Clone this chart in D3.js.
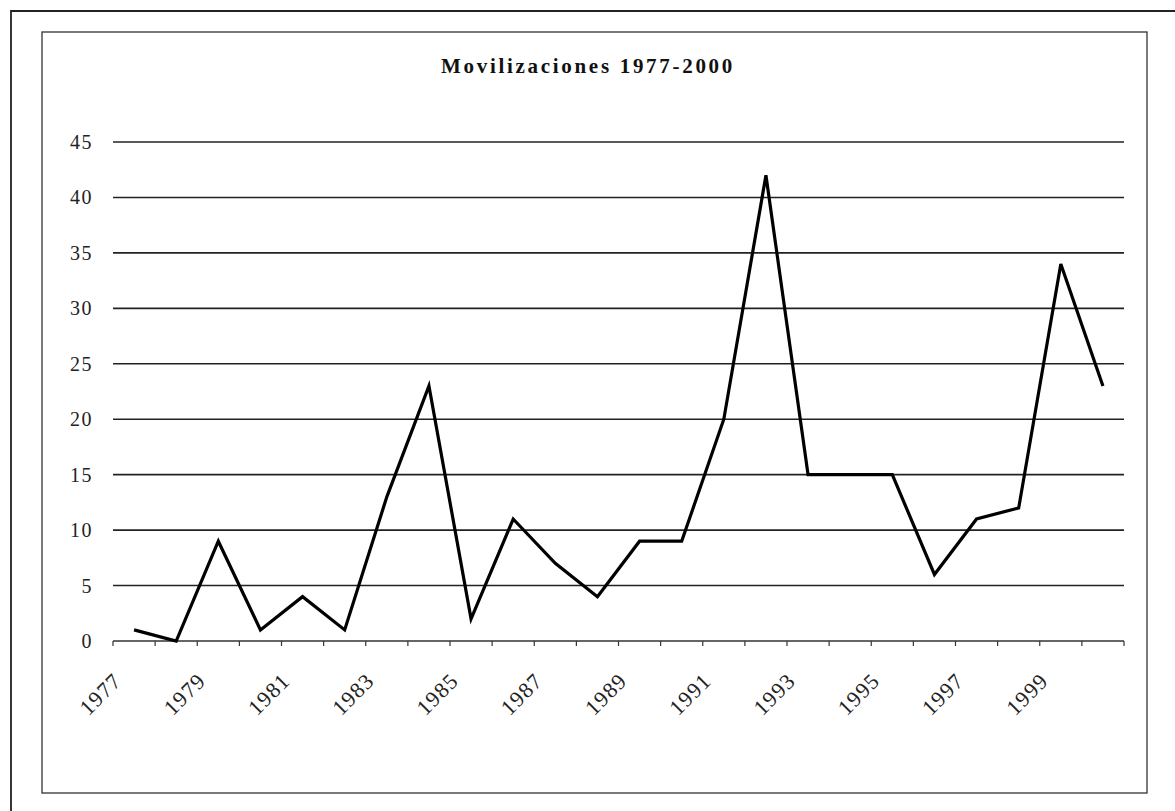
<!DOCTYPE html>
<html><head><meta charset="utf-8">
<script src="https://cdn.jsdelivr.net/npm/d3@7/dist/d3.min.js"></script>
<style>body{margin:0;background:#fff}svg{display:block}</style>
</head><body><svg id="c" width="1175" height="811"></svg>
<script>
const title = "Movilizaciones 1977-2000";
const years = ["1977","1978","1979","1980","1981","1982","1983","1984","1985","1986","1987","1988","1989","1990","1991","1992","1993","1994","1995","1996","1997","1998","1999","2000"];
const movilizaciones = [1,0,9,1,4,1,13,23,2,11,7,4,9,9,20,42,15,15,15,6,11,12,34,23];
const yTicks = [0,5,10,15,20,25,30,35,40,45];
const xLabels = ["1977","1979","1981","1983","1985","1987","1989","1991","1993","1995","1997","1999"];

const svg = d3.select("#c");
const L = 113, R = 1124, T = 142, B = 641;
const x = d3.scaleBand().domain(years).range([L, R]);
const y = d3.scaleLinear().domain([0, 45]).range([B, T]);

// outer page border and chart border
svg.append("path").attr("d", "M11,815 L11,11 L1180,11").attr("fill","none").attr("stroke","#222").attr("stroke-width",1.8);
svg.append("rect").attr("x",42).attr("y",32).attr("width",1105).attr("height",761)
  .attr("fill","none").attr("stroke","#333").attr("stroke-width",1.3);

// title
svg.append("text").attr("x", 588).attr("y", 73).attr("text-anchor","middle")
  .attr("font-family","Liberation Serif").attr("font-weight","bold").attr("font-size",21)
  .attr("letter-spacing", 2.7).attr("fill","#111").text(title);

// gridlines
svg.append("g").selectAll("line").data(yTicks.filter(d=>d>0)).join("line")
  .attr("x1", L).attr("x2", R).attr("y1", d=>y(d)).attr("y2", d=>y(d))
  .attr("stroke","#222").attr("stroke-width",1.6);

// y labels
svg.append("g").selectAll("text").data(yTicks).join("text")
  .attr("x", 93).attr("y", d=>y(d)+7).attr("text-anchor","end")
  .attr("font-family","Liberation Serif").attr("font-size",20).attr("letter-spacing",1.5)
  .attr("fill","#222").text(d=>d);

// x axis
const xAxis = d3.axisBottom(x).tickSize(0).tickFormat("");
const gx = svg.append("g").attr("transform",`translate(0,${B})`).call(xAxis);
gx.select(".domain").attr("stroke","#333").attr("stroke-width",1.6).attr("d", `M${L},0H${R}`);
gx.selectAll(".tick").remove();
const bounds = years.map(d=>x(d)).concat([R]);
gx.selectAll("line.tk").data(bounds).join("line").attr("class","tk")
  .attr("x1", d=>d).attr("x2", d=>d).attr("y1",0).attr("y2",5)
  .attr("stroke","#333").attr("stroke-width",1.2);

svg.append("g").selectAll("text").data(xLabels).join("text")
  .attr("transform", d=>`translate(${x(d)+10},${B+41}) rotate(-45)`)
  .attr("text-anchor","end")
  .attr("font-family","Liberation Serif").attr("font-size",22).attr("letter-spacing",1.2)
  .attr("fill","#222").text(d=>d);

// line
const line = d3.line().x((d,i)=>x(years[i]) + x.bandwidth()/2).y(d=>y(d));
svg.append("path").datum(movilizaciones).attr("d", line)
  .attr("fill","none").attr("stroke","#000").attr("stroke-width",3.2).attr("stroke-linejoin","miter");
</script></body></html>
